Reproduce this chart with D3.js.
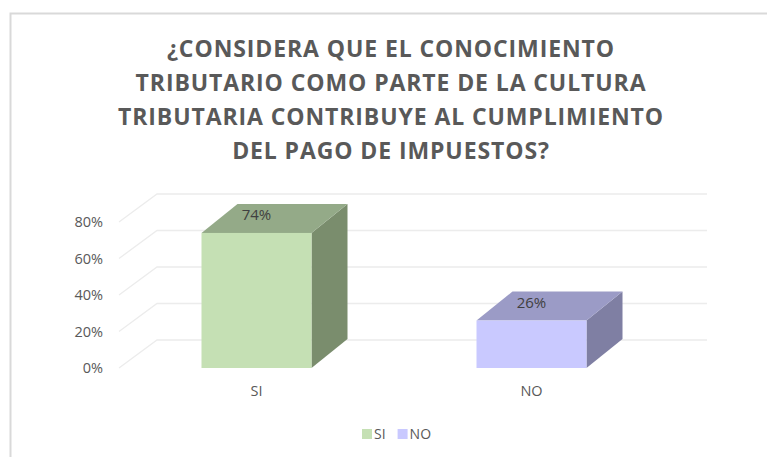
<!DOCTYPE html>
<html>
<head>
<meta charset="utf-8">
<script src="https://cdnjs.cloudflare.com/ajax/libs/d3/7.8.5/d3.min.js"></script>
<style>
  body { margin: 0; background: #fff; }
  svg { display: block; }
</style>
</head>
<body>
<script>
// datos del grafico
const categories = ['SI', 'NO']
const values = [0.74, 0.26]
const yTicks = [0, 0.2, 0.4, 0.6, 0.8]
const titleLines = [
  '¿CONSIDERA QUE EL CONOCIMIENTO',
  'TRIBUTARIO COMO PARTE DE LA CULTURA',
  'TRIBUTARIA CONTRIBUYE AL CUMPLIMIENTO',
  'DEL PAGO DE IMPUESTOS?'
]

const palette = {
  SI: { front: '#c5e0b4', top: '#94aa88', side: '#7a8d6d' },
  NO: { front: '#c9c9ff', top: '#9b9bc6', side: '#7f7fa3' }
}

const W = 767, H = 457
const font = 'Open Sans, Liberation Sans, sans-serif'
const txt = '#595959'

// planta del grafico (cara frontal)
const left = 119, right = 669, floorY = 368
const depth = { dx: 38, dy: -28 }      // profundidad del piso / pared
const barDepth = { dx: 36, dy: -29 }   // profundidad de cada barra

const svg = d3.select('body').append('svg')
  .attr('width', W)
  .attr('height', H)

// borde del area
svg.append('rect')
  .attr('x', 10.5).attr('y', 13.5)
  .attr('width', 800).attr('height', 500)
  .attr('fill', 'none')
  .attr('stroke', '#d9d9d9')
  .attr('stroke-width', 2)

// titulo
const title = svg.append('g')
titleLines.forEach((t, i) => {
  title.append('text')
    .attr('x', 391)
    .attr('y', 57 + i * 34)
    .attr('text-anchor', 'middle')
    .attr('font-family', font)
    .attr('font-weight', 'bold')
    .attr('font-size', 23)
    .attr('letter-spacing', 0.9)
    .attr('fill', txt)
    .text(t)
})

var x = d3.scaleBand()
  .domain(categories)
  .range([left, right])
  .paddingInner(0.6)
  .paddingOuter(0.3)

var y = d3.scaleLinear()
  .domain([0, 0.8])
  .range([floorY, 222])

// lineas de division: diagonal en el piso lateral + horizontal en la pared
const grid = svg.append('g')
yTicks.forEach(t => {
  const yy = y(t)
  grid.append('path')
    .attr('d', 'M' + left + ',' + yy +
      'L' + (left + depth.dx) + ',' + (yy + depth.dy) +
      'L' + (right + depth.dx) + ',' + (yy + depth.dy))
    .attr('fill', 'none')
    .attr('stroke', '#ececec')
    .attr('stroke-width', 1.3)
})

// eje y
var yAxis = d3.axisLeft(y)
  .tickValues(yTicks)
  .tickFormat(d3.format('.0%'))
  .tickSize(0)
  .tickPadding(16)

const gy = svg.append('g')
  .attr('transform', 'translate(' + left + ',0)')
  .call(yAxis)
gy.select('.domain').remove()
gy.selectAll('text')
  .attr('font-family', font)
  .attr('font-size', 14.5)
  .attr('fill', txt)

// barras 3d
const data = categories.map((c, i) => ({ cat: c, value: values[i] }))

const bars = svg.selectAll('g.bar')
  .data(data)
  .enter()
  .append('g')
  .attr('class', 'bar')

bars.each(function (d) {
  const g = d3.select(this)
  const x0 = x(d.cat), x1 = x0 + x.bandwidth()
  const y0 = y(0), y1 = y(d.value)
  const dx = barDepth.dx, dy = barDepth.dy
  const col = palette[d.cat]

  // cara lateral
  g.append('path')
    .attr('d', 'M' + x1 + ',' + y1 + 'L' + (x1 + dx) + ',' + (y1 + dy) +
      'L' + (x1 + dx) + ',' + (y0 + dy) + 'L' + x1 + ',' + y0 + 'Z')
    .attr('fill', col.side)
  // cara superior
  g.append('path')
    .attr('d', 'M' + x0 + ',' + y1 + 'L' + (x0 + dx) + ',' + (y1 + dy) +
      'L' + (x1 + dx) + ',' + (y1 + dy) + 'L' + x1 + ',' + y1 + 'Z')
    .attr('fill', col.top)
  // cara frontal
  g.append('rect')
    .attr('x', x0)
    .attr('y', y1)
    .attr('width', x.bandwidth())
    .attr('height', y0 - y1)
    .attr('fill', col.front)

  // etiqueta de valor
  g.append('text')
    .attr('x', x0 + x.bandwidth() / 2)
    .attr('y', y1 - 13)
    .attr('text-anchor', 'middle')
    .attr('font-family', font)
    .attr('font-size', 15)
    .attr('fill', '#404040')
    .text(d3.format('.0%')(d.value))
})

// eje x (categorias)
var xAxis = d3.axisBottom(x).tickSize(0).tickPadding(18)
const gx = svg.append('g')
  .attr('transform', 'translate(0,' + floorY + ')')
  .call(xAxis)
gx.select('.domain').remove()
gx.selectAll('text')
  .attr('font-family', font)
  .attr('font-size', 14.5)
  .attr('fill', txt)

// leyenda
const legend = svg.append('g').attr('transform', 'translate(362,434)')
let lx = 0
categories.forEach((c, i) => {
  legend.append('rect')
    .attr('x', lx).attr('y', -5)
    .attr('width', 10).attr('height', 10)
    .attr('fill', palette[c].front)
  const t = legend.append('text')
    .attr('x', lx + 12)
    .attr('y', 5)
    .attr('font-family', font)
    .attr('font-size', 14)
    .attr('fill', txt)
    .text(c)
  lx += 12 + t.node().getComputedTextLength() + 12
})
</script>
</body>
</html>
